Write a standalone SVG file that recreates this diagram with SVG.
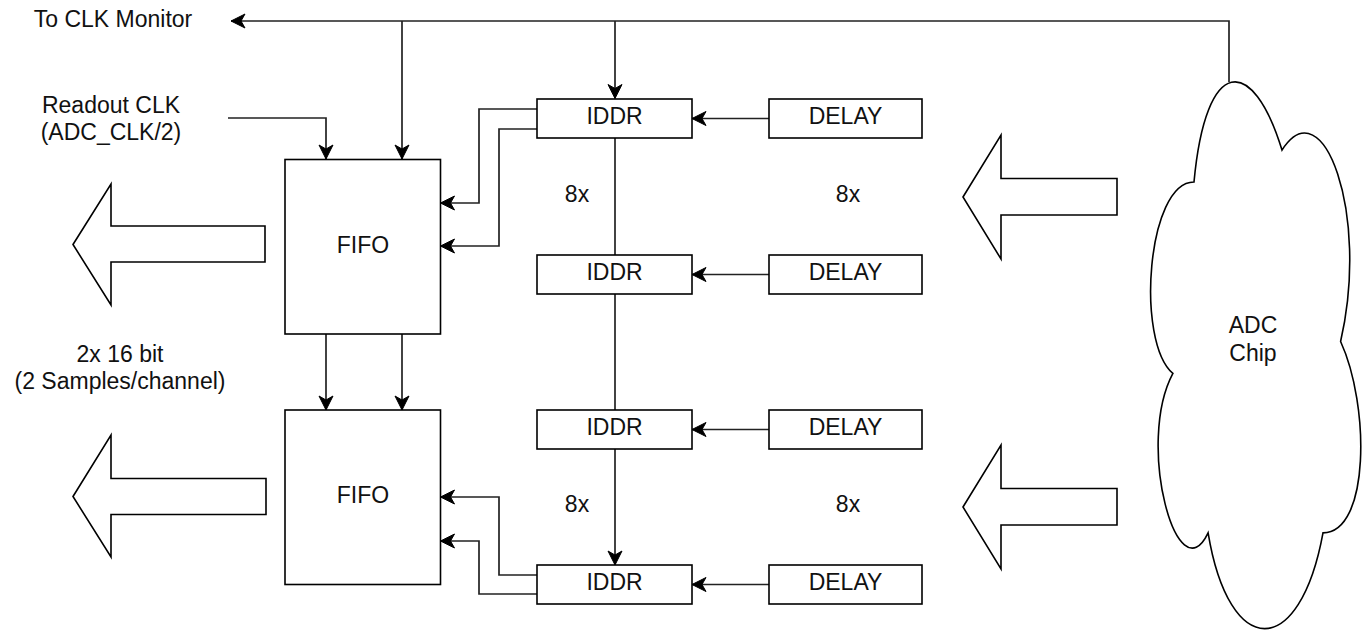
<svg xmlns="http://www.w3.org/2000/svg" width="1366" height="633" viewBox="0 0 1366 633">
<style>
.box{fill:#fff;stroke:#000;stroke-width:1.6}
.blk{fill:#fff;stroke:#000;stroke-width:1.6;stroke-linejoin:miter}
.edge{fill:none;stroke:#222;stroke-width:1.7}
.arr{marker-end:url(#ah)}
text{font-family:"Liberation Sans",Arial,sans-serif;font-size:23px;fill:#111;text-anchor:middle}
</style>
<defs>
<marker id="ah" markerUnits="userSpaceOnUse" markerWidth="16" markerHeight="16" refX="14" refY="7" orient="auto" viewBox="0 0 16 14" overflow="visible">
<path d="M0,0 L14,7 L0,14 L4,7 Z" fill="#000" stroke="#000" stroke-width="1"/>
</marker>
</defs>
<rect width="1366" height="633" fill="#fff"/>

<g id="connectors">
<path class="edge arr" d="M1229,82 V21 H231"/>
<path class="edge arr" d="M402,21 V159"/>
<path class="edge arr" d="M615,21 V98.5"/>
<path class="edge arr" d="M228,118 H326 V159"/>
<path class="edge arr" d="M769,118.5 H692"/>
<path class="edge arr" d="M769,274.5 H692"/>
<path class="edge arr" d="M769,429.5 H692"/>
<path class="edge arr" d="M769,584.5 H692"/>
<path class="edge" d="M615,138 V255"/>
<path class="edge" d="M615,294 V410"/>
<path class="edge arr" d="M615,449 V565"/>
<path class="edge arr" d="M537,109 H479 V203 H440.5"/>
<path class="edge arr" d="M537,129 H499 V246 H440.5"/>
<path class="edge arr" d="M537,575 H499 V497 H440.5"/>
<path class="edge arr" d="M537,594 H479 V541 H440.5"/>
<path class="edge arr" d="M326,334 V410"/>
<path class="edge arr" d="M402,334 V410"/>
</g>

<g id="clk-monitor-label"><text x="113" y="27">To CLK Monitor</text></g>
<g id="readout-clk-label"><text x="111" y="113">Readout CLK</text><text x="111" y="140">(ADC_CLK/2)</text></g>
<g id="bits-label"><text x="120" y="362">2x 16 bit</text><text x="120" y="389">(2 Samples/channel)</text></g>

<g id="fifo1"><rect class="box" x="285" y="159.5" width="155.5" height="174.5"/><text x="363" y="253">FIFO</text></g>
<g id="fifo2"><rect class="box" x="285" y="410" width="155.5" height="174.5"/><text x="363" y="503">FIFO</text></g>

<g id="iddr1"><rect class="box" x="537" y="99" width="155" height="39"/><text x="614.5" y="124">IDDR</text></g>
<g id="iddr2"><rect class="box" x="537" y="255" width="155" height="39"/><text x="614.5" y="280">IDDR</text></g>
<g id="iddr3"><rect class="box" x="537" y="410" width="155" height="39"/><text x="614.5" y="435">IDDR</text></g>
<g id="iddr4"><rect class="box" x="537" y="565" width="155" height="39"/><text x="614.5" y="590">IDDR</text></g>

<g id="delay1"><rect class="box" x="769" y="99" width="153" height="39"/><text x="845.5" y="124">DELAY</text></g>
<g id="delay2"><rect class="box" x="769" y="255" width="153" height="39"/><text x="845.5" y="280">DELAY</text></g>
<g id="delay3"><rect class="box" x="769" y="410" width="153" height="39"/><text x="845.5" y="435">DELAY</text></g>
<g id="delay4"><rect class="box" x="769" y="565" width="153" height="39"/><text x="845.5" y="590">DELAY</text></g>

<g id="label-8x-1"><text x="577" y="202">8x</text></g>
<g id="label-8x-2"><text x="848" y="202">8x</text></g>
<g id="label-8x-3"><text x="577" y="512">8x</text></g>
<g id="label-8x-4"><text x="848" y="512">8x</text></g>

<g id="out-arrow-top"><polygon class="blk" points="73,244.5 111,184 111,226 265,226 265,262 111,262 111,305"/></g>
<g id="out-arrow-bottom"><polygon class="blk" points="73,496.5 111,435 111,478.5 266,478.5 266,514.5 111,514.5 111,557"/></g>
<g id="in-arrow-top"><polygon class="blk" points="963,197 1001,135 1001,178.5 1117,178.5 1117,215 1001,215 1001,259"/></g>
<g id="in-arrow-bottom"><polygon class="blk" points="963,507 1001,445 1001,488.5 1117,488.5 1117,525 1001,525 1001,569"/></g>

<g id="adc-chip">
<path class="box" d="M1194,182 C1147.1,182 1135.4,341.5 1172.9,373.4 C1135.4,443.6 1177.6,596.7 1208.1,532.9 C1229.2,660.5 1299.6,660.5 1323,532.9 C1369.9,532.9 1369.9,405.3 1340.6,341.5 C1369.9,213.9 1323,86.3 1282,150.1 C1252.7,54.4 1205.8,54.4 1194,182 Z"/>
<text x="1253" y="333">ADC</text><text x="1253" y="361">Chip</text>
</g>
</svg>
